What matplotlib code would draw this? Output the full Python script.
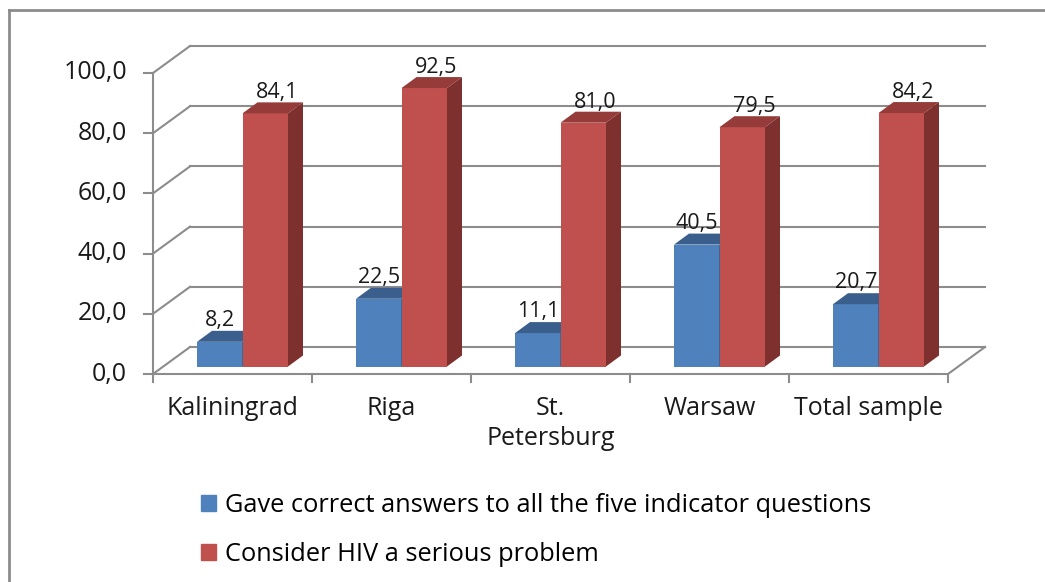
import matplotlib
matplotlib.use('Agg')
import matplotlib.pyplot as plt
from matplotlib.patches import Polygon, Patch
from matplotlib.lines import Line2D

plt.rcParams['font.family'] = ['Open Sans', 'DejaVu Sans']

# Datos
cities = ['Kaliningrad', 'Riga', 'St.\nPetersburg', 'Warsaw', 'Total sample']
correct = [8.2, 22.5, 11.1, 40.5, 20.7]
serious = [84.1, 92.5, 81.0, 79.5, 84.2]
series_names = ['Gave correct answers to all the five indicator questions',
                'Consider HIV a serious problem']
yticks = [0, 20, 40, 60, 80, 100]

W, H = 1045, 582
fig = plt.figure(figsize=(W / 100, H / 100), dpi=100)
ax = fig.add_axes([153 / W, (H - 374) / H, 795 / W, 301 / H])
ax.set_xlim(0, len(cities))
ax.set_ylim(0, 100)
ax.axis('off')

# pixeles por unidad de datos
px_x = 795 / len(cities)
px_y = 301 / 100


def off(px, py):
    return px / px_x, py / px_y


grid_c = '#8c8c8c'
txt_c = '#1a1a1a'
bdx, bdy = off(37, 27)      # pared del fondo
pdx, pdy = off(10, 7.5)     # plano de las barras
ddx, ddy = off(15, 11)      # profundidad de la barra
half = off(45.5, 0)[0]

# pared del fondo y pared lateral
for v in yticks:
    ax.plot([bdx, len(cities) + bdx], [v + bdy, v + bdy], color=grid_c, lw=1.5,
            clip_on=False, zorder=1)
    ax.plot([0, bdx], [v, v + bdy], color=grid_c, lw=1.5, clip_on=False, zorder=1)
    ax.plot([-off(9, 0)[0], 0], [v, v], color=grid_c, lw=1.5, clip_on=False, zorder=1)
    ax.text(-off(26, 0)[0], v, f'{v:.1f}'.replace('.', ','), ha='right', va='center',
            fontsize=18, color=txt_c)

# eje frontal y suelo
ax.plot([0, 0], [0, 100], color=grid_c, lw=1.5, clip_on=False, zorder=1)
ax.plot([0, len(cities)], [0, 0], color=grid_c, lw=1.5, clip_on=False, zorder=1)
ax.plot([len(cities), len(cities) + bdx], [0, bdy], color=grid_c, lw=1.5,
        clip_on=False, zorder=1)
for i in range(len(cities) + 1):
    ax.plot([i, i], [0, -off(0, 8)[1]], color=grid_c, lw=1.5, clip_on=False, zorder=1)

for i, name in enumerate(cities):
    ax.text(i + 0.5, -off(0, 22)[1], name, ha='center', va='top', fontsize=18,
            color=txt_c, linespacing=1.25)


def bar3d(x0, x1, v, front, top, side, z):
    y0 = pdy
    y1 = v + pdy
    x0 += pdx
    x1 += pdx
    ax.add_patch(Polygon([(x0, y0), (x1, y0), (x1, y1), (x0, y1)], closed=True,
                         fc=front, ec='none', clip_on=False, zorder=z))
    ax.add_patch(Polygon([(x0, y1), (x1, y1), (x1 + ddx, y1 + ddy), (x0 + ddx, y1 + ddy)],
                         closed=True, fc=top, ec='none', clip_on=False, zorder=z))
    ax.add_patch(Polygon([(x1, y0), (x1 + ddx, y0 + ddy), (x1 + ddx, y1 + ddy), (x1, y1)],
                         closed=True, fc=side, ec='none', clip_on=False, zorder=z))


blue = ('#4f81bd', '#3b5f8d', '#2f4d73')
red = ('#c0504d', '#953c3a', '#7d302e')

for i in range(len(cities)):
    c = i + 0.5
    bar3d(c - half, c, correct[i], *blue, z=3 + 2 * i)
    bar3d(c, c + half, serious[i], *red, z=4 + 2 * i)
    ax.text(c - half / 2 + pdx, correct[i] + pdy + ddy + off(0, 5)[1],
            f'{correct[i]:.1f}'.replace('.', ','), ha='center', va='baseline',
            fontsize=15.5, color=txt_c, zorder=20)
    ax.text(c + half / 2 + pdx + off(12, 0)[0], serious[i] + pdy + ddy + off(0, 4)[1],
            f'{serious[i]:.1f}'.replace('.', ','), ha='center', va='baseline',
            fontsize=15.5, color=txt_c, zorder=20)

# leyenda
handles = [Patch(color=blue[0]), Patch(color=red[0])]
fig.legend(handles, series_names, loc='upper left',
           bbox_to_anchor=(201 / W, 1 - 493 / H), frameon=False, fontsize=18.3,
           handlelength=0.6, handleheight=0.6, handletextpad=0.35,
           labelspacing=0.95, borderpad=0, borderaxespad=0)

# marco
fig.add_artist(Line2D([9 / W, 1], [1 - 10 / H, 1 - 10 / H], color=grid_c, lw=2,
                      transform=fig.transFigure))
fig.add_artist(Line2D([9 / W, 9 / W], [0, 1 - 10 / H], color=grid_c, lw=2,
                      transform=fig.transFigure))

fig.savefig('out.png', dpi=100)
